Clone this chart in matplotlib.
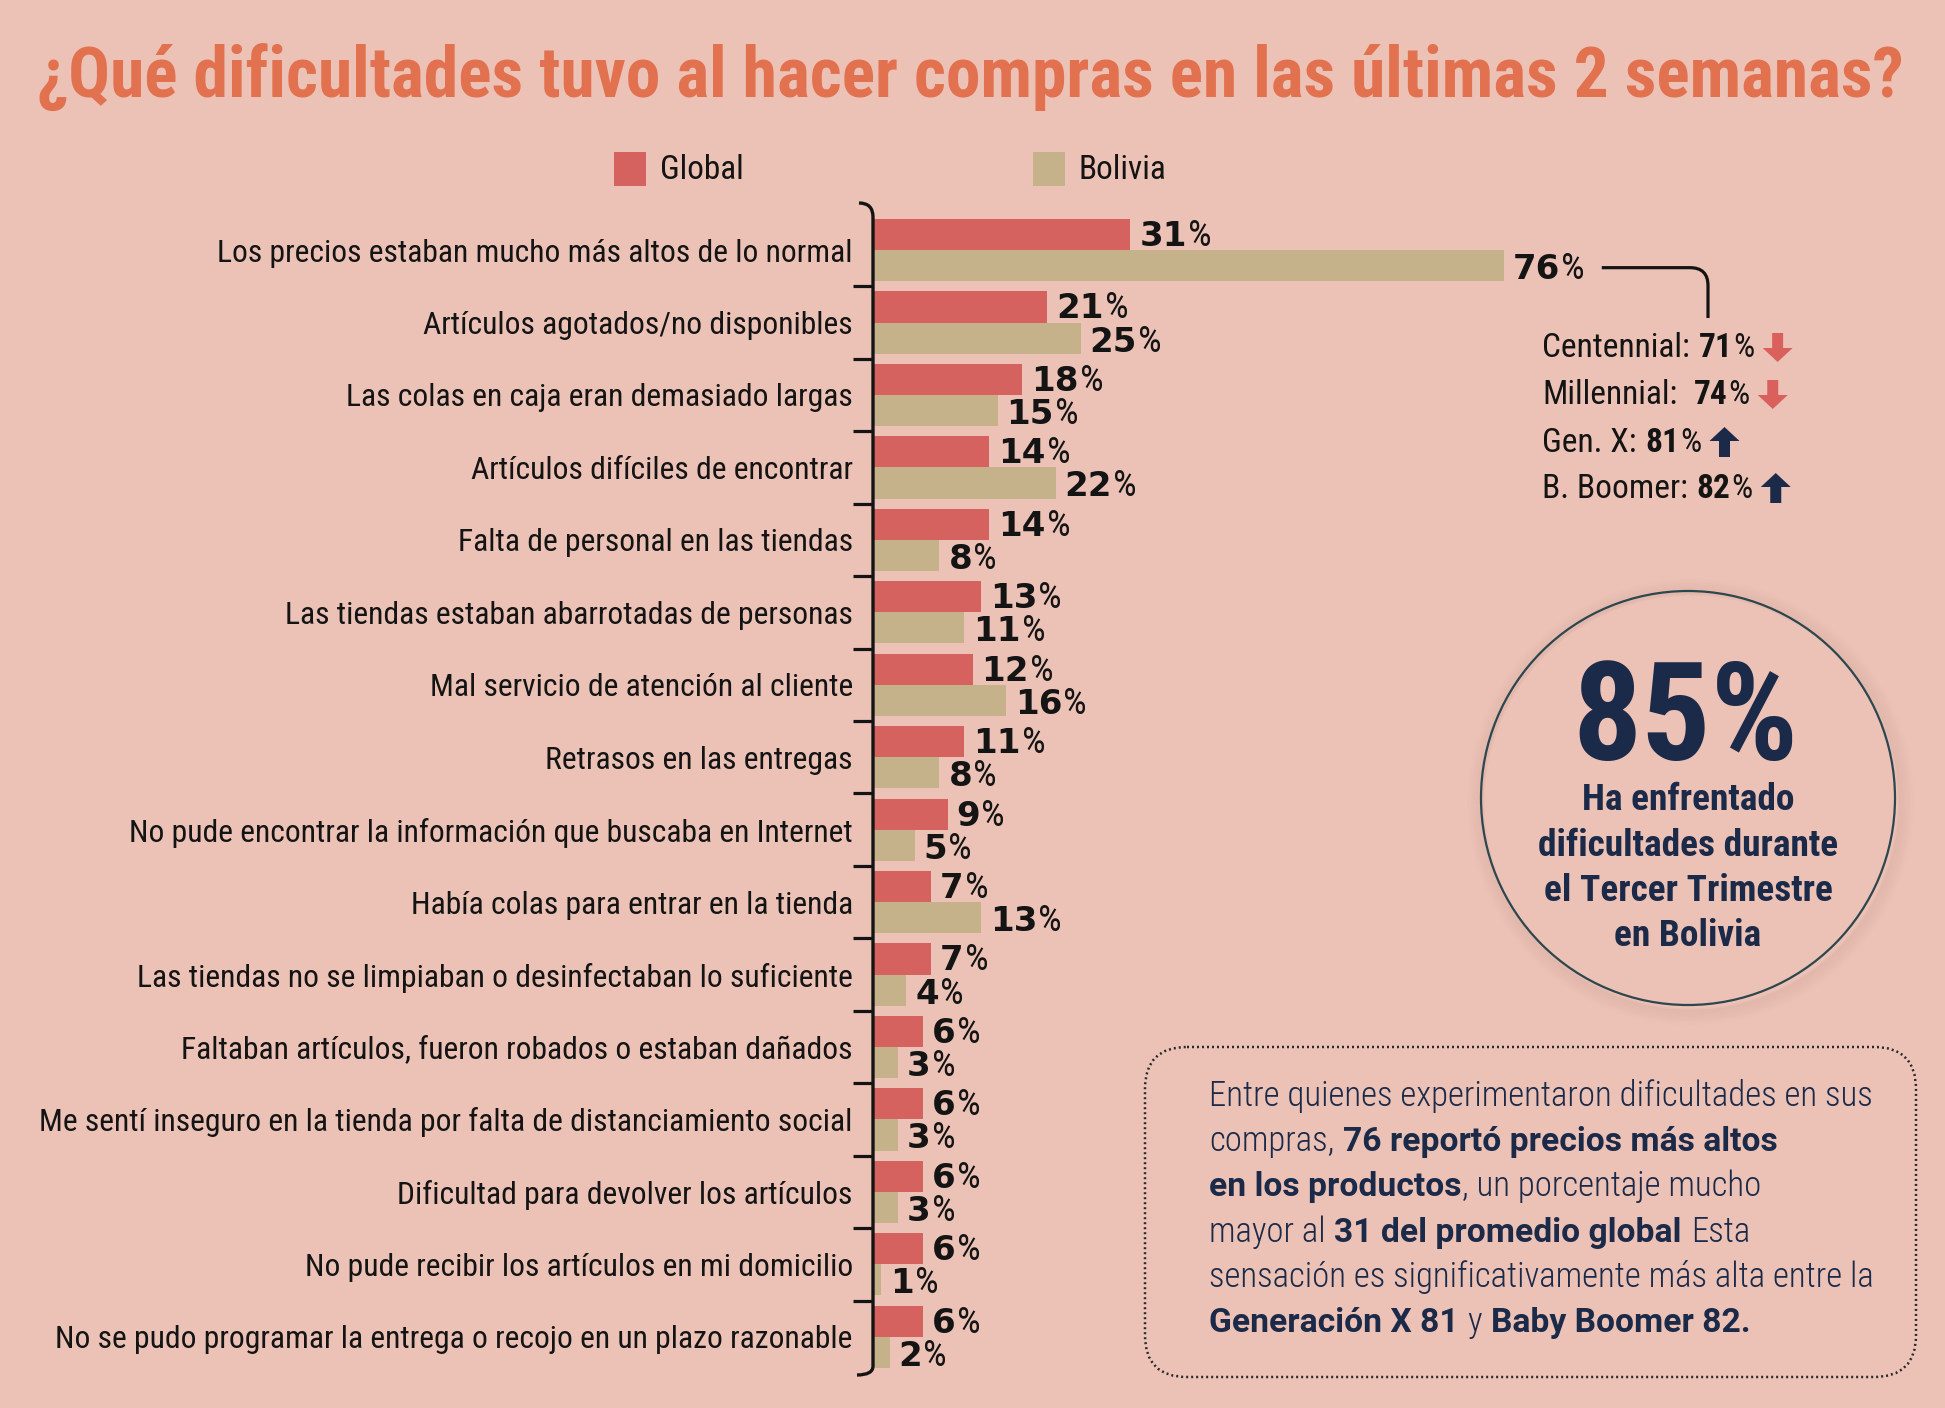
import matplotlib
matplotlib.use("Agg")
import matplotlib.pyplot as plt
from matplotlib import font_manager as fm
from matplotlib.font_manager import FontProperties
from matplotlib.patches import Rectangle, Circle, FancyBboxPatch, FancyArrow, PathPatch
from matplotlib.path import Path
import numpy as np

# ---------------- data ----------------
title = "¿Qué dificultades tuvo al hacer compras en las últimas 2 semanas?"
series_names = ["Global", "Bolivia"]
categories = [
    "Los precios estaban mucho más altos de lo normal",
    "Artículos agotados/no disponibles",
    "Las colas en caja eran demasiado largas",
    "Artículos difíciles de encontrar",
    "Falta de personal en las tiendas",
    "Las tiendas estaban abarrotadas de personas",
    "Mal servicio de atención al cliente",
    "Retrasos en las entregas",
    "No pude encontrar la información que buscaba en Internet",
    "Había colas para entrar en la tienda",
    "Las tiendas no se limpiaban o desinfectaban lo suficiente",
    "Faltaban artículos, fueron robados o estaban dañados",
    "Me sentí inseguro en la tienda por falta de distanciamiento social",
    "Dificultad para devolver los artículos",
    "No pude recibir los artículos en mi domicilio",
    "No se pudo programar la entrega o recojo en un plazo razonable",
]
global_vals = [31, 21, 18, 14, 14, 13, 12, 11, 9, 7, 7, 6, 6, 6, 6, 6]
bolivia_vals = [76, 25, 15, 22, 8, 11, 16, 8, 5, 13, 4, 3, 3, 3, 1, 2]

gen_labels = ["Centennial: ", "Millennial:  ", "Gen. X: ", "B. Boomer: "]
gen_vals = [71, 74, 81, 82]
gen_trend = ["down", "down", "up", "up"]

headline_value = 85
circle_lines = ["Ha enfrentado", "dificultades durante", "el Tercer Trimestre", "en Bolivia"]

# (text, bold?) pieces per line
box_lines = [
    [("Entre quienes experimentaron dificultades en sus", False)],
    [("compras, ", False), ("76 reportó precios más altos", True)],
    [("en los productos", True), (", un porcentaje mucho", False)],
    [("mayor al ", False), ("31 del promedio global", True), (" Esta", False)],
    [("sensación es significativamente más alta entre la", False)],
    [("Generación X 81", True), (" y ", False), ("Baby Boomer 82.", True)],
]

# ---------------- styles ----------------
W, H = 1945, 1408
BG = "#ECC2B6"
RED = "#D5625E"
TAN = "#C6B28A"
TITLE_C = "#E2714F"
NAVY = "#1B2A48"
INK = "#141414"

COND = ("condensed", "semi-condensed", "extra-condensed", "ultra-condensed")


def _wnum(w):
    if isinstance(w, str):
        return fm.weight_dict.get(w, 400)
    return int(w)


def _search(name, weight, stretch_ok):
    best, bd = None, 1e9
    for f in fm.fontManager.ttflist:
        if f.name != name or f.style != "normal":
            continue
        if stretch_ok is not None and f.stretch not in stretch_ok:
            continue
        d = abs(_wnum(f.weight) - weight)
        if d < bd:
            best, bd = f.fname, d
    if best is not None and bd <= 200:
        return best
    return None


def find_font(target_weight):
    cands = [("Roboto Condensed", None), ("Liberation Sans Narrow", None),
             ("Open Sans Condensed", None), ("Noto Sans", COND), ("Open Sans", COND),
             ("DejaVu Sans", COND), ("Roboto", COND)]
    for name, st in cands:
        r = _search(name, target_weight, st)
        if r:
            return r
    fallback = FontProperties(family=["Liberation Sans", "DejaVu Sans"],
                              weight="bold" if target_weight >= 600 else "normal")
    return fm.findfont(fallback)


def find_wide(target_weight):
    for name in ["Roboto", "Open Sans", "Noto Sans", "Lato"]:
        r = _search(name, target_weight, ("normal",))
        if r:
            return r
    return find_font(target_weight)


REG_FILE = find_font(400)
LIGHT_FILE = find_font(300)
BOLD_FILE = find_font(700)
HEAVY_FILE = find_font(850)
WIDE_BOLD_FILE = find_wide(700)
NUM_FILE = fm.findfont(FontProperties(family="DejaVu Sans", weight="bold"))


def fp(file, size):
    return FontProperties(fname=file, size=size)


fig = plt.figure(figsize=(W / 100, H / 100), dpi=100)
fig.patch.set_facecolor(BG)
renderer = fig.canvas.get_renderer()

ov = fig.add_axes([0, 0, 1, 1])
ov.set_xlim(0, W)
ov.set_ylim(H, 0)
ov.axis("off")
ov.set_zorder(3)


def text_width(s, prop):
    t = fig.text(0, 0, s, fontproperties=prop)
    w = t.get_window_extent(renderer).width
    t.remove()
    return w


def fit_size(s, file, target_px, base=40.0):
    return base * target_px / text_width(s, fp(file, base))


def space_w(prop):
    return text_width("n n", prop) - text_width("nn", prop)


def draw_pieces(x, y, pieces, ha="left", zorder=5):
    """pieces: list of (text, FontProperties, color); y is baseline (pixel)."""
    arts = []
    cx = x
    for s, prop, col in pieces:
        lead = len(s) - len(s.lstrip(" "))
        trail = len(s) - len(s.rstrip(" "))
        sw = space_w(prop)
        core = s.strip(" ")
        cx += lead * sw
        if core:
            t = ov.text(cx, y, core, fontproperties=prop, color=col,
                        ha="left", va="baseline", zorder=zorder)
            cx += t.get_window_extent(renderer).width + 1
            arts.append(t)
        cx += trail * sw
    total = cx - x
    if ha == "center":
        for t in arts:
            t.set_x(t.get_position()[0] - total / 2)
        return x + total / 2
    return cx


# ---------------- title ----------------
ts = fit_size(title, HEAVY_FILE, 1867)
ov.text(970, 97, title, fontproperties=fp(HEAVY_FILE, ts), color=TITLE_C,
        ha="center", va="baseline")

# ---------------- legend ----------------
leg_size = fit_size("Global", REG_FILE, 84)
for (x0, name, col) in [(614, series_names[0], RED), (1033, series_names[1], TAN)]:
    ov.add_patch(Rectangle((x0, 152), 32, 34, color=col, lw=0))
    ov.text(x0 + 46, 179, name, fontproperties=fp(REG_FILE, leg_size), color=INK,
            ha="left", va="baseline")

# ---------------- bars ----------------
n = len(categories)
top_px, bot_px = 203, 1373
ax = fig.add_axes([873 / W, 1 - bot_px / H, 830 / W, (bot_px - top_px) / H])
ax.set_zorder(2)
ax.set_facecolor("none")
ax.set_xlim(0, 100)
ax.set_ylim(n - 0.5, -0.65)
y = np.arange(n)
bh = 0.43
ax.barh(y - bh / 2, global_vals, height=bh, color=RED, lw=0)
ax.barh(y + bh / 2, bolivia_vals, height=bh, color=TAN, lw=0)
for s in ax.spines.values():
    s.set_visible(False)
ax.xaxis.set_visible(False)

lab_size = fit_size(max(categories, key=lambda c: text_width(c, fp(REG_FILE, 20))),
                    REG_FILE, 816)
ax.set_yticks(y)
ax.set_yticklabels(categories, fontproperties=fp(REG_FILE, lab_size), color=INK)
ax.set_yticks(y[:-1] + 0.5, minor=True)
ax.tick_params(axis="y", which="major", length=0, pad=14.5)
ax.tick_params(axis="y", which="minor", length=14.5, width=2.3, color=INK,
               direction="out")

# bracket-like spine
sp = Path([(859, 203), (873, 203), (873, 217), (873, 1366), (873, 1375), (857, 1375)],
          [Path.MOVETO, Path.CURVE3, Path.CURVE3, Path.LINETO, Path.CURVE3, Path.CURVE3])
ov.add_patch(PathPatch(sp, fill=False, lw=2.4, ec=INK, capstyle="butt"))


def to_px(xd, yd):
    dx, dy = ax.transData.transform((xd, yd))
    return dx, H - dy


num_size = 24.5
num_fp = fp(NUM_FILE, num_size)
pct_fp = fp(REG_FILE, num_size * 1.1)
cap = 0.73 * num_size * 100 / 72
label_ends = {}
for i in range(n):
    for j, (vals, off, dy) in enumerate([(global_vals, -bh / 2, -1),
                                         (bolivia_vals, bh / 2, 1)]):
        xe, yc = to_px(vals[i], y[i] + off)
        end = draw_pieces(xe + 9, yc + cap / 2 + dy,
                          [(str(vals[i]), num_fp, INK), ("%", pct_fp, INK)])
        label_ends[(i, j)] = end

# ---------------- generation breakdown ----------------
gx = 1542
g_size = fit_size("Centennial: 71%", REG_FILE, 210)
g_reg = fp(REG_FILE, g_size)
g_bold = fp(BOLD_FILE, g_size)
g_base = [357, 404, 452, 498]
for k in range(len(gen_labels)):
    end = draw_pieces(gx, g_base[k], [(gen_labels[k], g_reg, INK),
                                      (str(gen_vals[k]), g_bold, INK), ("%", g_reg, INK)])
    xc = end + 22
    if gen_trend[k] == "down":
        ov.add_patch(FancyArrow(xc, g_base[k] - 24, 0, 29, width=11, head_width=30,
                                head_length=14, length_includes_head=True,
                                color="#D9605C", lw=0))
    else:
        ov.add_patch(FancyArrow(xc, g_base[k] + 5, 0, -30, width=11, head_width=30,
                                head_length=14, length_includes_head=True,
                                color=NAVY, lw=0))

# leader line from 76% label to breakdown
lx0 = label_ends[(0, 1)] + 16
_, ly = to_px(bolivia_vals[0], y[0] + bh / 2)
ly = ly + 2
lp = Path([(lx0, ly), (1690, ly), (1708, ly), (1708, ly + 18), (1708, 318)],
          [Path.MOVETO, Path.LINETO, Path.CURVE3, Path.CURVE3, Path.LINETO])
ov.add_patch(PathPatch(lp, fill=False, lw=2.3, ec=INK))

# ---------------- circle ----------------
cx0, cy0, r = 1688, 798, 207
for k in range(10):
    ov.add_patch(Circle((cx0 + 3, cy0 + 4), r + 1 + k * 1.6, fill=False,
                        lw=2.2, ec="#7a4a40", alpha=0.045 * (10 - k) / 10))
ov.add_patch(Circle((cx0, cy0), r, fill=False, lw=1.6, ec="#2C474D"))
hs = fit_size(f"{headline_value}%", HEAVY_FILE, 226)
ov.text(cx0 - 3, 760, f"{headline_value}%", fontproperties=fp(HEAVY_FILE, hs), color=NAVY,
        ha="center", va="baseline")
cs = fit_size("dificultades durante", BOLD_FILE, 300)
for k, (line, yb) in enumerate(zip(circle_lines, [810, 856, 901, 946])):
    ov.text(cx0, yb, line, fontproperties=fp(BOLD_FILE, cs), color=NAVY,
            ha="center", va="baseline")

# ---------------- text box ----------------
ov.add_patch(FancyBboxPatch((1145, 1047), 771, 330,
                            boxstyle="round,pad=0,rounding_size=42", fill=False,
                            ec="#2a2a2a", lw=1.8, ls=(0, (0.8, 1.2))))
bs = fit_size(box_lines[0][0][0], LIGHT_FILE, 663)
b_reg = fp(LIGHT_FILE, bs)
b_bold = fp(WIDE_BOLD_FILE, bs * 0.97)
for k, line in enumerate(box_lines):
    draw_pieces(1209, 1106 + k * 45.2,
                [(s, b_bold if b else b_reg, NAVY) for s, b in line])

fig.savefig("out.png", dpi=100, facecolor=BG)
